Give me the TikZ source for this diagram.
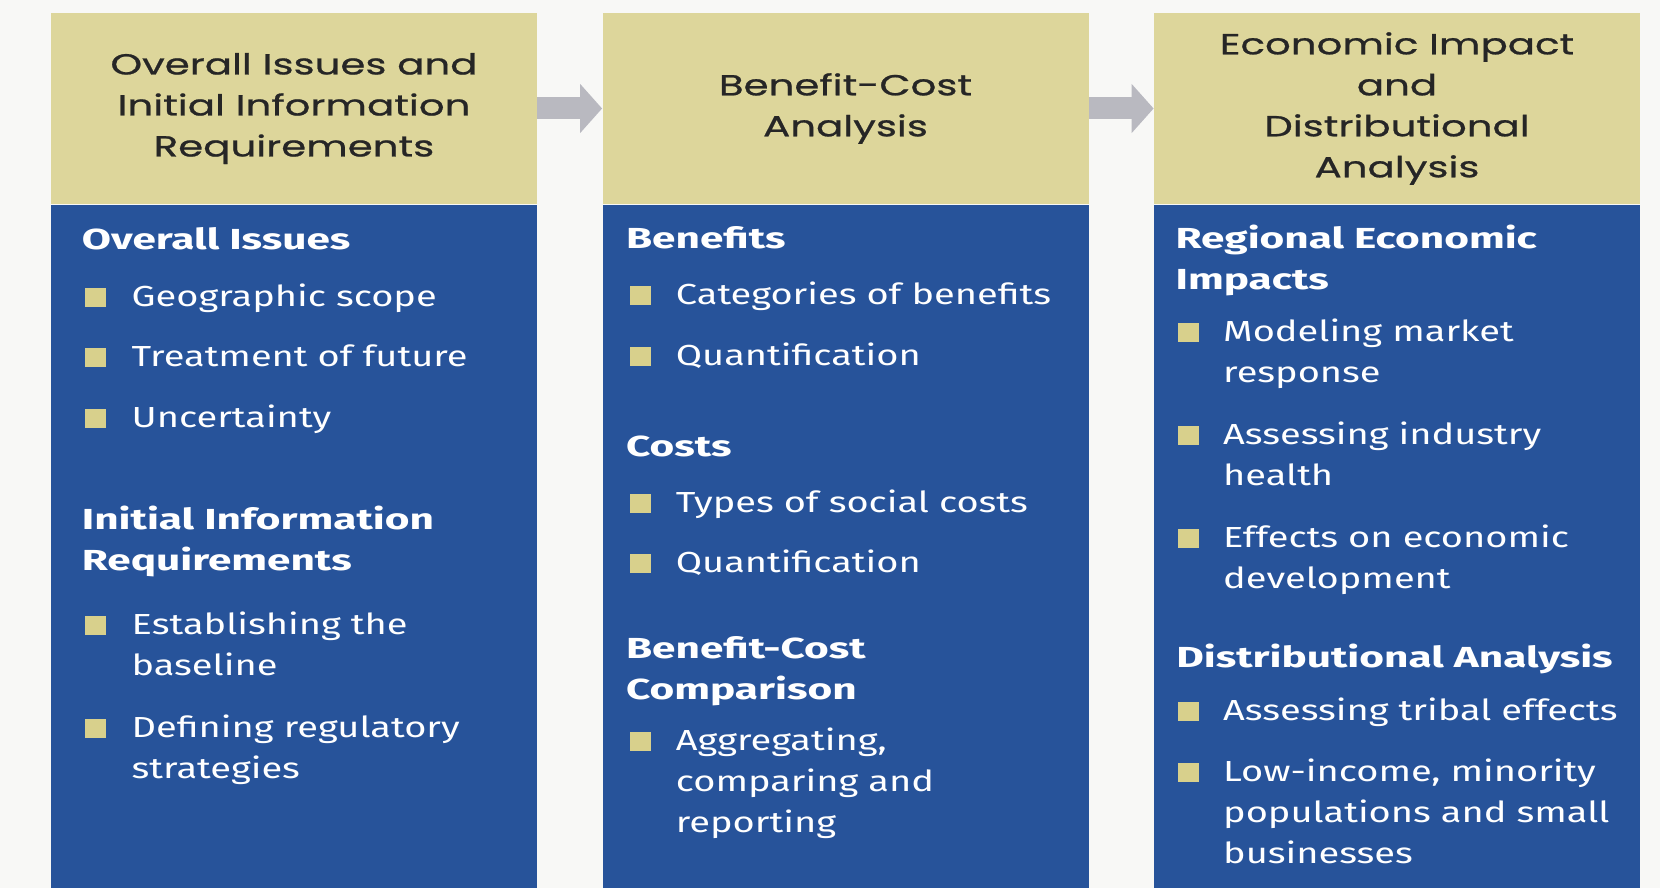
\documentclass[tikz,border=0pt]{standalone}
\usepackage{fontspec}
\setmainfont{Fira Sans}[FakeStretch=1.31, BoldFeatures={FakeStretch=1.46}]
\newfontfamily\headfont{Poppins}[FakeStretch=1.39, FakeBold=0.8]
\usetikzlibrary{positioning}
\usetikzlibrary{arrows.meta}

\definecolor{pagebg}{HTML}{F8F8F6}
\definecolor{headyellow}{HTML}{DDD69B}
\definecolor{bodyblue}{HTML}{27539A}
\definecolor{bulletyellow}{HTML}{D8D08C}
\definecolor{arrowgray}{HTML}{B9B9C0}
\def\px{0.5pt}
\def\colw{486}
\def\lsk{41.2}
\tikzset{
    head/.style = {
        fill=headyellow, minimum width=\colw*\px, minimum height=191*\px, inner sep=0pt,
        align=center, text=black!85, font=\headfont\fontsize{14.5}{20.5}\selectfont
    },
    body/.style = {
        fill=bodyblue, minimum width=\colw*\px, minimum height=684*\px, inner sep=0pt
    },
    sub/.style = {
        anchor=base west, inner sep=0pt, align=left, text=white,
        font=\bfseries\fontsize{14.5}{20.6}\selectfont
    },
    item/.style = {
        anchor=base west, inner sep=0pt, align=left, text=white,
        font=\fontsize{14.5}{20.6}\selectfont
    },
    bul/.style = {fill=bulletyellow, minimum width=21*\px, minimum height=19*\px, inner sep=0pt},
    flow/.style = {line width=22*\px, arrowgray, -{Triangle[length=11pt, width=24pt]}}
}

\begin{document}
\begin{tikzpicture}[x=\px, y=-\px]
    \fill[pagebg] (0,0) rectangle (1660,888);
    \useasboundingbox (0,0) rectangle (1660,888);
    % Place the blocks
    \node[head] (h1) at (294,108.5) {Overall Issues and\\Initial Information\\Requirements};
    \node[head] (h2) at (845.5,108.5) {Benefit-Cost\\Analysis};
    \node[head] (h3) at (1397,108.5) {Economic Impact\\and\\Distributional\\Analysis};
    \foreach \x in {1, 2, 3}{
        \node[body, below=0pt of h\x] (b\x) {};
    }
    \draw[flow] (h1) -- (h2);
    \draw[flow] (h2) -- (h3);
    % First column
    \node[sub] (s1a) at (81.5,249) {Overall Issues};
    \node[sub] (s1b) at (81.5,529+\lsk) {Initial Information\\Requirements};
    \foreach \n/\y/\k/\t in {a/306/0/Geographic scope, b/366/0/Treatment of future, c/427/0/Uncertainty,
        d/634/1/{Establishing the\\baseline}, e/737/1/{Defining regulatory\\strategies}}{
        \node[bul] (p1\n) at (95.3,\y-9) {};
        \node[item] (t1\n) at (131.3,\y+\k*\lsk) {\t};
    }
    % Second column
    \node[sub] (s2a) at (625.7,248) {Benefits};
    \node[sub] (s2b) at (625.7,456) {Costs};
    \node[sub] (s2c) at (625.7,658+\lsk) {Benefit-Cost\\Comparison};
    \foreach \n/\y/\k/\t in {a/304/0/Categories of benefits, b/365/0/Quantification,
        c/512/0/Types of social costs, d/572/0/Quantification,
        e/750/2/{Aggregating,\\comparing and\\reporting}}{
        \node[bul] (p2\n) at (640.5,\y-9) {};
        \node[item] (t2\n) at (675.5,\y+\k*\lsk) {\t};
    }
    % Third column
    \node[sub] (s3a) at (1175.2,248+\lsk) {Regional Economic\\Impacts};
    \node[sub] (s3b) at (1176,667) {Distributional Analysis};
    \foreach \n/\y/\k/\t in {a/341/1/{Modeling market\\response}, b/444/1/{Assessing industry\\health},
        c/547/1/{Effects on economic\\development}, d/720/0/Assessing tribal effects,
        e/781/2/{Low-income, minority\\populations and small\\businesses}}{
        \node[bul] (p3\n) at (1188,\y-9) {};
        \node[item] (t3\n) at (1222.8,\y+\k*\lsk) {\t};
    }
\end{tikzpicture}
\end{document}
